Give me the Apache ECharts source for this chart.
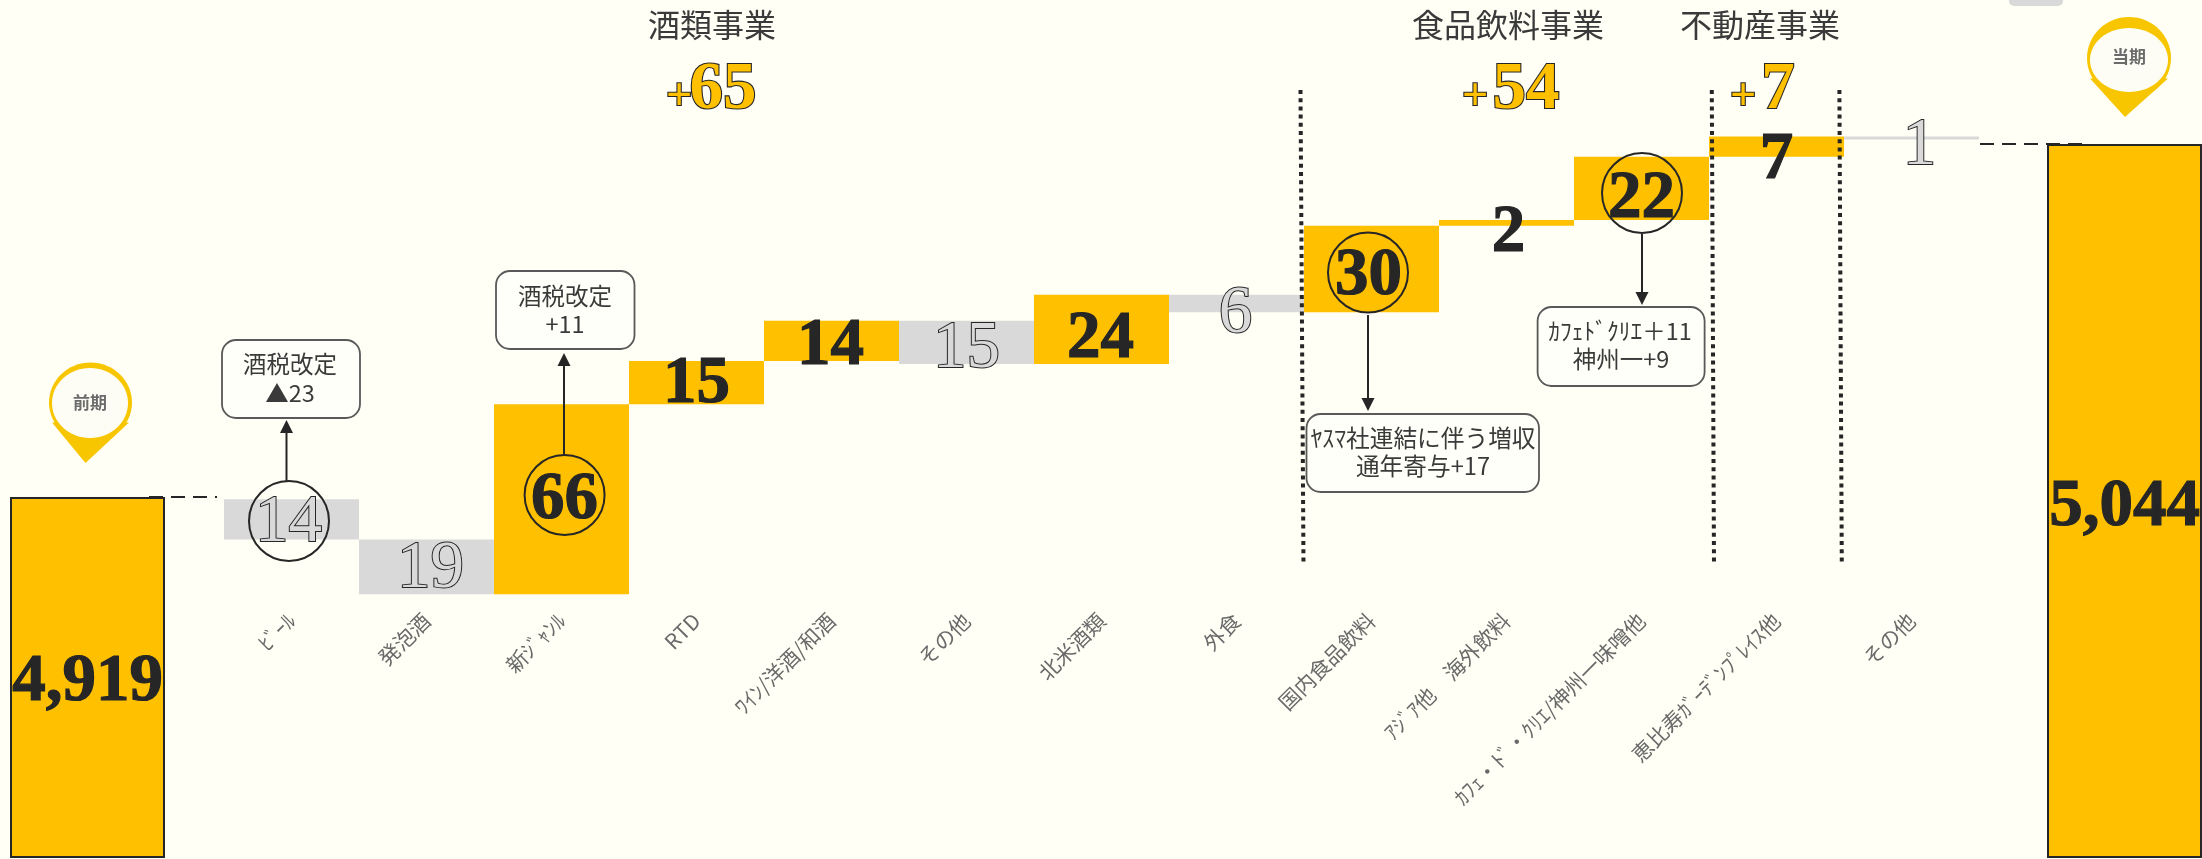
<!DOCTYPE html>
<html>
<head>
<meta charset="utf-8">
<title>売上収益 増減要因</title>
<style>
  html, body { margin: 0; padding: 0; background: #fffff5; }
  #chart { width: 2202px; height: 859px; }
</style>
<script src="https://cdn.jsdelivr.net/npm/echarts@6/dist/echarts.min.js"></script>
</head>
<body>
<div id="chart"></div>
<script>
// Year-on-year sales bridge, in the order the segments are reported.
const categories = ['ﾋﾞｰﾙ', '発泡酒', '新ｼﾞｬﾝﾙ', 'RTD', 'ﾜｲﾝ/洋酒/和酒', 'その他', '北米酒類', '外食',
  '国内食品飲料', 'ｱｼﾞｱ他　海外飲料', 'ｶﾌｪ・ﾄﾞ・ｸﾘｴ/神州一味噌他', '恵比寿ｶﾞｰﾃﾞﾝﾌﾟﾚｲｽ他', 'その他'];
const deltas = [-14, -19, 66, 15, 14, -15, 24, -6, 30, 2, 22, 7, -1];
const openingTotal = 4919;
const closingTotal = 5044;
const openingName = '前期';
const closingName = '当期';

// Label placement relative to the bar centre, in pixels.
const labelNudges = [[-3, 4], [4, 3], [3, 1], [0, 2], [-1, 6], [0, 7], [-1, 10], [-1, 11], [-3, 8], [2, 11], [0, 11], [0, 14], [8, 8]];

const GOLD = '#ffc000';
const GREY = '#d9d9d9';
const INK = '#262626';
const JP = '"Noto Sans CJK JP", "Noto Sans", sans-serif';
const SERIF = '"Liberation Serif", serif';

// Running total gives the invisible base under each floating bar.
const bases = [];
let running = openingTotal;
deltas.forEach(function (d) {
  const next = running + d;
  bases.push(Math.min(running, next));
  running = next;
});

function barItem(v, i) {
  return { value: v, label: { offset: labelNudges[i] } };
}
const hollowLabel = {
  show: true, position: 'inside', fontFamily: SERIF, fontSize: 67, fontWeight: 'normal',
  color: GREY, textBorderColor: INK, textBorderWidth: 2, formatter: function (p) { return p.value; }
};
const solidLabel = {
  show: true, position: 'inside', fontFamily: SERIF, fontSize: 67, fontWeight: 'bold',
  color: INK, textBorderColor: INK, textBorderWidth: 1.2, formatter: function (p) { return p.value; }
};
function totalLabel(dy) {
  return {
    show: true, position: 'inside', offset: [0, dy], fontFamily: SERIF, fontSize: 67, fontWeight: 'bold',
    color: INK, textBorderColor: INK, textBorderWidth: 1.2,
    formatter: function (p) { return p.value.toLocaleString('en-US'); }
  };
}
const totalStyle = { color: GOLD, borderColor: INK, borderWidth: 2 };

// Annotation helpers for the callouts, pins and dividers.
function text(x, y, str, size, extra) {
  return Object.assign({
    type: 'text', z: 20, silent: true,
    style: Object.assign({
      x: x, y: y, text: str, fontSize: size, fontFamily: JP, fill: '#3a3a3a',
      align: 'center', verticalAlign: 'middle'
    }, extra || {})
  });
}
function box(x, y, w, h) {
  return {
    type: 'rect', z: 15, silent: true, shape: { x: x, y: y, width: w, height: h, r: 14 },
    style: { fill: '#fffff9', stroke: '#595959', lineWidth: 1.8 }
  };
}
function ring(cx, cy, r) {
  return {
    type: 'circle', z: 12, silent: true, shape: { cx: cx, cy: cy, r: r },
    style: { fill: 'transparent', stroke: INK, lineWidth: 2 }
  };
}
function arrow(x, y0, tip) {
  const dir = tip < y0 ? 1 : -1;
  return [
    { type: 'line', z: 14, silent: true, shape: { x1: x, y1: y0, x2: x, y2: tip + dir * 10 }, style: { stroke: INK, lineWidth: 2 } },
    { type: 'polygon', z: 14, silent: true, shape: { points: [[x, tip], [x - 6.5, tip + dir * 13], [x + 6.5, tip + dir * 13]] }, style: { fill: INK } }
  ];
}
function dotted(x1, x2) {
  return {
    type: 'line', z: 13, silent: true, shape: { x1: x1, y1: 90, x2: x2, y2: 565 },
    style: { stroke: INK, lineWidth: 4, lineDash: [4, 4.2] }
  };
}
function dashed(x1, x2, y) {
  return {
    type: 'line', z: 13, silent: true, shape: { x1: x1, y1: y, x2: x2, y2: y },
    style: { stroke: INK, lineWidth: 2, lineDash: [14, 8] }
  };
}
function pin(cx, cy, rx, ry, tipX, tipY, ix, iy, irx, iry, name, ty) {
  return [
    { type: 'ellipse', z: 16, silent: true, shape: { cx: cx, cy: cy, rx: rx, ry: ry }, style: { fill: '#f7c600' } },
    { type: 'polygon', z: 16, silent: true, shape: { points: [[cx - rx + 3, cy + ry * 0.5], [tipX, tipY], [cx + rx - 3, cy + ry * 0.5]] }, style: { fill: '#f7c600' } },
    { type: 'ellipse', z: 17, silent: true, shape: { cx: ix, cy: iy, rx: irx, ry: iry }, style: { fill: '#fdfdf6' } },
    text(ix, ty, name, 17, { fill: '#6b6b6b', fontWeight: 'bold' })
  ];
}
function gain(plusX, digitsX, digits) {
  const outline = { fontFamily: SERIF, fontWeight: 'bold', fill: GOLD, stroke: INK, lineWidth: 2.2 };
  return [
    text(plusX, 98, '+', 46, outline),
    text(digitsX, 91, digits, 67, outline)
  ];
}

const annotations = [].concat(
  // Segment headings and their totals
  text(712, 25, '酒類事業', 32),
  text(1508, 25, '食品飲料事業', 32),
  text(1760, 25, '不動産事業', 32),
  gain(679, 723, '65'),
  gain(1475, 1526, '54'),
  gain(1743, 1778, '7'),

  // Segment dividers
  dotted(1300.5, 1303.5),
  dotted(1711.8, 1714),
  dotted(1839.4, 1841.8),

  // Connectors from the totals into the bridge
  dashed(149, 217, 497),
  dashed(1980, 2083, 144),

  // Ringed values
  ring(289, 521, 40),
  ring(564.6, 495, 40),
  ring(1368, 272.5, 40),
  ring(1642, 193, 40),

  // Arrows to the callouts
  arrow(286.5, 481, 420),
  arrow(564, 455, 353),
  arrow(1368, 315, 411),
  arrow(1642, 234, 305),

  // Callouts
  box(222, 340, 138, 78),
  text(290, 364, '酒税改定', 23.5),
  text(290, 393, '▲23', 23.5),
  box(496, 271, 138.5, 78),
  text(565, 296, '酒税改定', 23.5),
  text(565, 324, '+11', 23.5),
  box(1306.5, 414, 232.5, 78),
  text(1423, 438, 'ﾔｽﾏ社連結に伴う増収', 23.7),
  text(1423, 466, '通年寄与+17', 23.7),
  box(1537.6, 307, 167, 79),
  text(1620, 331, 'ｶﾌｪﾄﾞｸﾘｴ＋11', 23.5),
  text(1621, 359, '神州一+9', 23.5),

  // Period pins
  pin(90.5, 402.5, 41.5, 40, 85.5, 463, 90, 403, 38, 35, openingName, 403),
  pin(2129, 58, 42, 41, 2125, 117, 2129, 60, 39, 32, closingName, 57),
  { type: 'rect', z: 15, silent: true, shape: { x: 2009, y: -6, width: 54, height: 12, r: 5 }, style: { fill: GREY } }
);

const option = {
  backgroundColor: '#fffff5',
  animation: false,
  grid: [
    { left: 10, top: 497, width: 155, height: 360 },
    { left: 224, top: 7, width: 1755, height: 593 },
    { left: 2047, top: 144, width: 155, height: 713 }
  ],
  xAxis: [
    { gridIndex: 0, type: 'category', data: [openingName], show: false },
    {
      gridIndex: 1, type: 'category', data: categories,
      axisLine: { show: false }, axisTick: { show: false },
      axisLabel: { interval: 0, rotate: 45, margin: 17, fontSize: 21, fontFamily: JP, color: '#6a6a6a', hideOverlap: false }
    },
    { gridIndex: 2, type: 'category', data: [closingName], show: false }
  ],
  yAxis: [
    { gridIndex: 0, type: 'value', min: 4794, max: 4919, show: false },
    { gridIndex: 1, type: 'value', min: 4884, max: 5090, show: false },
    { gridIndex: 2, type: 'value', min: 4796, max: 5044, show: false }
  ],
  series: [
    {
      name: openingName, type: 'bar', xAxisIndex: 0, yAxisIndex: 0, barWidth: '100%',
      data: [openingTotal], itemStyle: totalStyle, label: totalLabel(5)
    },
    {
      name: 'base', type: 'bar', xAxisIndex: 1, yAxisIndex: 1, stack: 'bridge', barWidth: '100%',
      data: bases, itemStyle: { color: 'transparent' }, silent: true
    },
    {
      name: 'rise', type: 'bar', xAxisIndex: 1, yAxisIndex: 1, stack: 'bridge',
      itemStyle: { color: GOLD }, label: solidLabel,
      data: deltas.map(function (d, i) { return d > 0 ? barItem(d, i) : '-'; })
    },
    {
      name: 'fall', type: 'bar', xAxisIndex: 1, yAxisIndex: 1, stack: 'bridge',
      itemStyle: { color: GREY }, label: hollowLabel,
      data: deltas.map(function (d, i) { return d < 0 ? barItem(-d, i) : '-'; })
    },
    {
      name: closingName, type: 'bar', xAxisIndex: 2, yAxisIndex: 2, barWidth: '100%',
      data: [closingTotal], itemStyle: totalStyle, label: totalLabel(7)
    }
  ],
  graphic: { elements: annotations }
};

echarts.init(document.getElementById('chart'), null, { renderer: 'canvas' }).setOption(option);
</script>
</body>
</html>
